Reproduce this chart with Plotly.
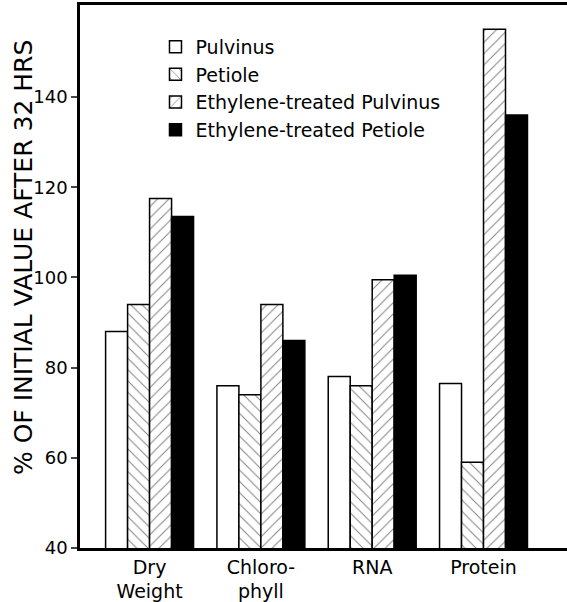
import plotly.graph_objects as go

categories = ["Dry<br>Weight", "Chloro-<br>phyll", "RNA", "Protein"]
series_names = ["Pulvinus", "Petiole", "Ethylene-treated Pulvinus", "Ethylene-treated Petiole"]
pulvinus = [88, 76, 78, 76.5]
petiole = [94, 74, 76, 59]
eth_pulvinus = [117.5, 94, 99.5, 155]
eth_petiole = [113.5, 86, 100.5, 136]
y_ticks = [40, 60, 80, 100, 120, 140]
y_title = "% OF INITIAL VALUE AFTER 32 HRS"

FONT = "DejaVu Sans, Verdana, sans-serif"

fig = go.Figure()
styles = [
    dict(color="white", pattern=None),
    dict(color="white", pattern=dict(shape="\\", fgcolor="black", bgcolor="white", size=8, solidity=0.12)),
    dict(color="white", pattern=dict(shape="/", fgcolor="black", bgcolor="white", size=8, solidity=0.12)),
    dict(color="black", pattern=None),
]
for name, vals, st in zip(series_names, [pulvinus, petiole, eth_pulvinus, eth_petiole], styles):
    marker = dict(color=st["color"], line=dict(color="black", width=1.5))
    if st["pattern"]:
        marker["pattern"] = st["pattern"]
    fig.add_trace(go.Bar(x=categories, y=vals, name=name, marker=marker))

fig.update_layout(
    width=567, height=602,
    margin=dict(l=80, r=0, t=5, b=54, autoexpand=False),
    paper_bgcolor="white", plot_bgcolor="white",
    barmode="group", bargap=0.21, bargroupgap=0,
    font=dict(family=FONT, color="black", size=18),
    showlegend=True,
    legend=dict(x=0.155, y=0.958, xanchor="left", yanchor="top",
                bgcolor="rgba(0,0,0,0)", font=dict(size=19, family=FONT),
                tracegroupgap=0, itemwidth=30),
    annotations=[dict(
        text=y_title, xref="paper", yref="paper", x=-0.117, y=0.534,
        xanchor="center", yanchor="middle", textangle=-90, showarrow=False,
        font=dict(size=25, family=FONT),
    )],
)
fig.update_xaxes(
    range=[-0.625, 3.75], showline=True, linecolor="black", linewidth=2.5,
    mirror=True, ticks="", showgrid=False, tickfont=dict(size=19), automargin=False,
)
fig.update_yaxes(
    range=[40, 160.4], tickvals=y_ticks, showline=True, linecolor="black", linewidth=2.5,
    ticks="outside", ticklen=6, tickwidth=1.5, showgrid=False, zeroline=False,
    tickfont=dict(size=18), automargin=False,
)

fig.write_html(
    "out.html",
    config={"displayModeBar": False, "responsive": False},
    post_script="document.body.style.margin='0px';document.body.style.overflow='hidden';",
)
